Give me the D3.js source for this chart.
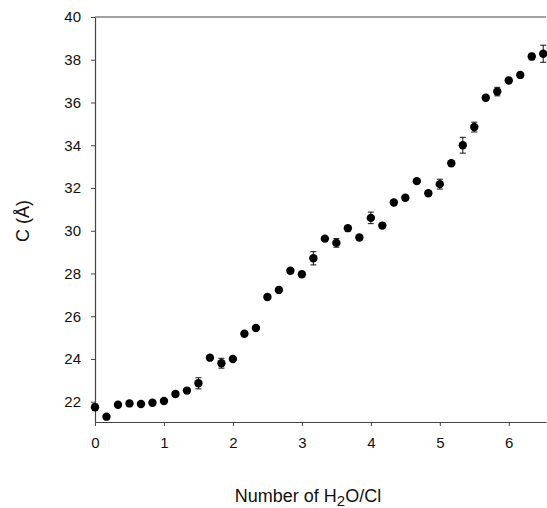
<!DOCTYPE html>
<html>
<head>
<meta charset="utf-8">
<script src="https://cdn.jsdelivr.net/npm/d3@7"></script>
<style>
body{margin:0;background:#fff}
svg{display:block}
.tick text{font-family:"Liberation Sans",Arial,sans-serif;font-size:15px;fill:#111}
.label{font-family:"Liberation Sans",Arial,sans-serif;font-size:18px;fill:#111}
</style>
</head>
<body>
<svg id="graph1"></svg>
<script>
// water per Cl (steps of 1/6) and lattice constant C
var ratio=[0,1/6,2/6,3/6,4/6,5/6,1,7/6,8/6,9/6,10/6,11/6,2,13/6,14/6,15/6,16/6,17/6,3,19/6,
           20/6,21/6,22/6,23/6,4,25/6,26/6,27/6,28/6,29/6,5,31/6,32/6,33/6,34/6,35/6,6,37/6,38/6,39/6]
var cValues=[21.74,21.30,21.86,21.92,21.89,21.95,22.03,22.36,22.52,22.86,
             24.06,23.80,24.00,25.18,25.45,26.90,27.23,28.13,27.96,28.71,
             29.63,29.43,30.12,29.68,30.60,30.24,31.32,31.54,32.32,31.75,
             32.18,33.16,34.00,34.85,36.22,36.51,37.03,37.29,38.15,38.28]
var cErrors=[0.15,0.1,0.1,0.1,0.1,0.1,0.1,0.1,0.1,0.26,
             0.1,0.23,0.1,0.1,0.1,0.1,0.1,0.1,0.1,0.31,
             0.1,0.2,0.1,0.1,0.27,0.1,0.1,0.1,0.1,0.1,
             0.23,0.1,0.37,0.23,0.1,0.2,0.1,0.1,0.15,0.4]
var xTicks=[0,1,2,3,4,5,6]
var yTicks=[22,24,26,28,30,32,34,36,38,40]

var points=ratio.map(function(r,i){return {x:r,c:cValues[i],err:cErrors[i]}})

var screen={width:547,height:508}
var margins={left:95,right:1,top:17,bottom:86}
var graph={width:screen.width-margins.left-margins.right,
           height:screen.height-margins.top-margins.bottom}

var svg=d3.select("#graph1")
    .attr("width",screen.width)
    .attr("height",screen.height)

var target=svg.append("g")
    .attr("id","canvas1")
    .attr("transform","translate("+margins.left+","+margins.top+")")

var xScale=d3.scaleLinear()
    .domain([0,6.54])
    .range([0,graph.width])
var yScale=d3.scaleLinear()
    .domain([21.05,40])
    .range([graph.height,0])

// axes
var xAxis=d3.axisBottom(xScale).tickValues(xTicks).tickFormat(d3.format("d"))
    .tickSize(4).tickSizeOuter(0).tickPadding(11)
target.append("g")
    .attr("transform","translate(0,"+graph.height+")")
    .call(xAxis)
var yAxis=d3.axisLeft(yScale).tickValues(yTicks).tickFormat(d3.format("d"))
    .tickSize(4).tickSizeOuter(0).tickPadding(10)
target.append("g").call(yAxis)
target.selectAll(".domain").attr("stroke","#444").attr("stroke-width",1.2)
target.selectAll(".tick line").attr("stroke","#444")
target.selectAll(".tick text").attr("font-family",null).attr("font-size",null)

// top frame line
target.append("line")
    .attr("x1",xScale(0)).attr("x2",xScale(6.54))
    .attr("y1",yScale(40)).attr("y2",yScale(40))
    .attr("stroke","#444").attr("stroke-width",1.2)

// error bars
var eb=target.selectAll(".err")
    .data(points)
    .enter()
    .append("g")
    .attr("class","err")
    .attr("stroke","#111")
    .attr("stroke-width",1)
eb.append("line")
    .attr("x1",function(d){return xScale(d.x)})
    .attr("x2",function(d){return xScale(d.x)})
    .attr("y1",function(d){return yScale(d.c-d.err)})
    .attr("y2",function(d){return yScale(d.c+d.err)})
eb.append("line")
    .attr("x1",function(d){return xScale(d.x)-3})
    .attr("x2",function(d){return xScale(d.x)+3})
    .attr("y1",function(d){return yScale(d.c+d.err)})
    .attr("y2",function(d){return yScale(d.c+d.err)})
eb.append("line")
    .attr("x1",function(d){return xScale(d.x)-3})
    .attr("x2",function(d){return xScale(d.x)+3})
    .attr("y1",function(d){return yScale(d.c-d.err)})
    .attr("y2",function(d){return yScale(d.c-d.err)})

target.selectAll("circle")
    .data(points)
    .enter()
    .append("circle")
    .attr("cx",function(d){return xScale(d.x)})
    .attr("cy",function(d){return yScale(d.c)})
    .attr("r",4.2)
    .attr("fill","#000")

// labels
var labels=svg.append("g")
labels.append("text")
    .classed("label",true)
    .attr("text-anchor","middle")
    .attr("transform","translate(29,221) rotate(-90)")
    .text("C (Å)")
var xl=labels.append("text")
    .classed("label",true)
    .attr("text-anchor","middle")
    .attr("x",308)
    .attr("y",502)
xl.append("tspan").text("Number of H")
xl.append("tspan").attr("dy",4).attr("font-size","15px").text("2")
xl.append("tspan").attr("dy",-4).text("O/Cl")
</script>
</body>
</html>
